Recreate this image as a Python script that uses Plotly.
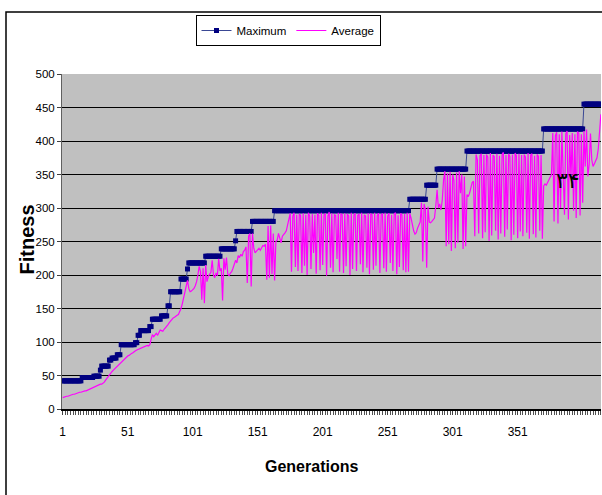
import plotly.graph_objects as go

# ---------------- data ----------------
generations = list(range(1, 416))

# Maximum fitness: step values and how many generations each step lasts
max_levels = [42, 47, 49, 58, 64, 73, 76, 81, 96, 99, 110, 117, 123, 134, 139, 154,
              175, 194, 209, 218, 228, 239, 251, 265, 280, 296, 313, 334, 358, 385,
              418, 455]
max_runs = [15, 9, 5, 1, 6, 2, 4, 3, 11, 2, 2, 7, 2, 7, 5, 2,
            8, 5, 1, 13, 12, 11, 1, 12, 17, 104, 13, 8, 23, 59,
            31, 14]

# Average fitness per generation
avg_g1_106 = [17, 18, 18, 19, 19, 20, 21, 21, 22, 22, 23, 23, 24, 25, 25, 26, 26, 27, 27, 28,
              29, 29, 30, 31, 32,
              33, 34, 35, 36, 37, 37, 38, 40, 43, 46,
              49, 52, 54, 56, 58, 60, 62, 64, 66, 68,
              70, 72, 74, 76, 78, 79, 80, 82, 83, 84,
              86, 87, 88, 89, 90, 91, 92, 93, 94, 95,
              95, 94, 96, 104, 111, 108, 110, 113, 110, 114,
              118, 117, 116, 119, 121, 124, 126, 129, 132, 134,
              136, 137, 139, 140, 141, 145, 150, 157, 165, 173,
              183, 192, 180, 175, 176, 178, 180, 184, 190, 200, 213]
avg_g107_175 = [205, 163, 210, 158, 215, 190,
                198, 201, 204, 222, 200, 196, 203, 199, 224, 206,
                210, 162,
                225, 208, 226,
                201, 199, 203, 205,
                210, 216, 222, 218, 229, 226, 231, 228, 235, 237,
                242, 188, 258, 262, 183, 262, 240,
                233, 236, 238, 240, 237, 241, 244, 243, 246,
                193, 273, 196, 274, 201, 262,
                192, 250, 252, 262, 255, 248, 258, 260, 263, 266, 275, 285]
avg_g176_267 = [292, 205, 288, 293, 212, 290, 206, 291, 289, 203,
                292, 214, 290, 200, 293, 288, 209, 291, 233, 290,
                202, 292, 289, 207, 293, 215, 290, 291, 199, 288,
                294, 211, 292, 204, 290, 289, 224, 293, 205, 291,
                290, 203, 292, 213, 291, 288, 200, 293, 209, 290,
                292, 206, 289, 291, 216, 293, 204, 290, 288, 211,
                292, 201, 291, 290, 208, 293, 214, 289, 292, 203,
                290, 291, 210, 293, 205, 288, 292, 218, 290, 206,
                291, 293, 201, 289, 212, 292, 290, 207, 291, 204,
                293, 205]
avg_g268_311 = [292, 285, 275, 266, 261, 263, 270, 276, 279, 308,
                220, 306, 298, 211, 302, 279, 278, 280, 283, 285, 303,
                327, 300, 306, 297, 312, 342, 355, 243, 352, 246,
                354, 236, 350, 341, 240, 353, 248, 355, 322, 350,
                239, 347, 243]
avg_g312_370 = [320, 317, 322, 331, 338, 340, 258, 380, 372,
                262, 378, 381, 255, 379, 264, 380, 376, 251, 382,
                259, 379, 377, 266, 381, 253, 378, 262, 380, 383,
                257, 379, 268, 381, 377, 252, 380, 260, 382, 378,
                255, 381, 265, 379, 258, 380, 376, 263, 382, 254,
                379, 381, 261, 378, 256, 380, 377, 266, 379, 254]
avg_g371_415 = [333, 336, 334, 338, 342, 345, 350, 412, 280, 408,
                413, 277, 410, 300, 414, 352, 290, 411, 415, 283,
                409, 345, 412, 296, 410, 285, 414, 412, 289, 410,
                308,
                415, 362, 417, 347, 365, 411, 372, 362, 366, 370,
                375, 388, 422, 440]

x_tick_vals = [1, 51, 101, 151, 201, 251, 301, 351]
x_tick_text = ["1", "51", "101", "151", "201", "251", "301", "351"]
y_tick_vals = [0, 50, 100, 150, 200, 250, 300, 350, 400, 450, 500]

series_names = ["Maximum", "Average"]
x_title = "Generations"
y_title = "Fitness"
note_text = "۳۴"

# -------------- build series --------------
maximum = []
for lvl, n in zip(max_levels, max_runs):
    maximum.extend([lvl] * n)
average = avg_g1_106 + avg_g107_175 + avg_g176_267 + avg_g268_311 + avg_g312_370 + avg_g371_415

FONT = "Liberation Sans, Arial, sans-serif"

fig = go.Figure()
fig.add_trace(go.Scatter(
    x=generations, y=maximum, name=series_names[0], mode="lines+markers",
    line=dict(color="#3a4894", width=1),
    marker=dict(symbol="square", size=5, color="#000080", line=dict(width=0)),
))
fig.add_trace(go.Scatter(
    x=generations, y=average, name=series_names[1], mode="lines",
    line=dict(color="#FF00FF", width=1.2),
))

L, R, T, B = 62, 1, 74, 86
W, H = 602, 495
pw, ph = W - L - R, H - T - B

def px(xp):
    return (xp - L) / pw

def py(yp):
    return (H - B - yp) / ph

fig.update_layout(
    width=W, height=H,
    margin=dict(l=L, r=R, t=T, b=B),
    paper_bgcolor="white",
    plot_bgcolor="#C0C0C0",
    showlegend=True,
    legend=dict(
        orientation="h", x=px(288), y=py(15), xanchor="center", yanchor="top",
        bgcolor="white", bordercolor="black", borderwidth=1,
        font=dict(family=FONT, size=11.5, color="black"),
        itemwidth=30, tracegroupgap=0,
    ),
    xaxis=dict(
        range=[0.46, 415.1], tickmode="array", tickvals=x_tick_vals, ticktext=x_tick_text,
        ticks="outside", ticklen=4, tickcolor="#404040", tickwidth=1,
        tickfont=dict(family=FONT, size=12, color="black"),
        ticklabelstandoff=7,
        showline=True, linecolor="black", linewidth=1.5,
        showgrid=False, zeroline=False,
        minor=dict(tick0=1, dtick=2, ticks="outside", ticklen=4, tickcolor="#505050",
                   tickwidth=1, showgrid=False),
    ),
    yaxis=dict(
        range=[0, 500], tickmode="array", tickvals=y_tick_vals,
        ticks="outside", ticklen=4, tickcolor="#404040",
        tickfont=dict(family=FONT, size=11.5, color="black"),
        showline=True, linecolor="#606060", linewidth=1,
        showgrid=True, gridcolor="black", gridwidth=1.3, zeroline=False,
    ),
    annotations=[
        dict(text=f"<b>{x_title}</b>", xref="paper", yref="paper", x=px(311.7), y=py(466.5),
             xanchor="center", yanchor="middle", showarrow=False,
             font=dict(family=FONT, size=16, color="black")),
        dict(text=f"<b>{y_title}</b>", xref="paper", yref="paper", x=px(26.5), y=py(240),
             xanchor="center", yanchor="middle", showarrow=False, textangle=-90,
             font=dict(family=FONT, size=20, color="black")),
        dict(text=note_text, xref="x", yref="y", x=389.7, y=341,
             xanchor="center", yanchor="middle", showarrow=False,
             font=dict(family="DejaVu Sans", size=22, color="black")),
    ],
    shapes=[
        dict(type="rect", xref="paper", yref="paper", x0=px(6), x1=px(640), y0=py(520), y1=py(12),
             line=dict(color="black", width=1.5), fillcolor="rgba(0,0,0,0)", layer="below"),
    ],
)

fig.write_html("out.html")
